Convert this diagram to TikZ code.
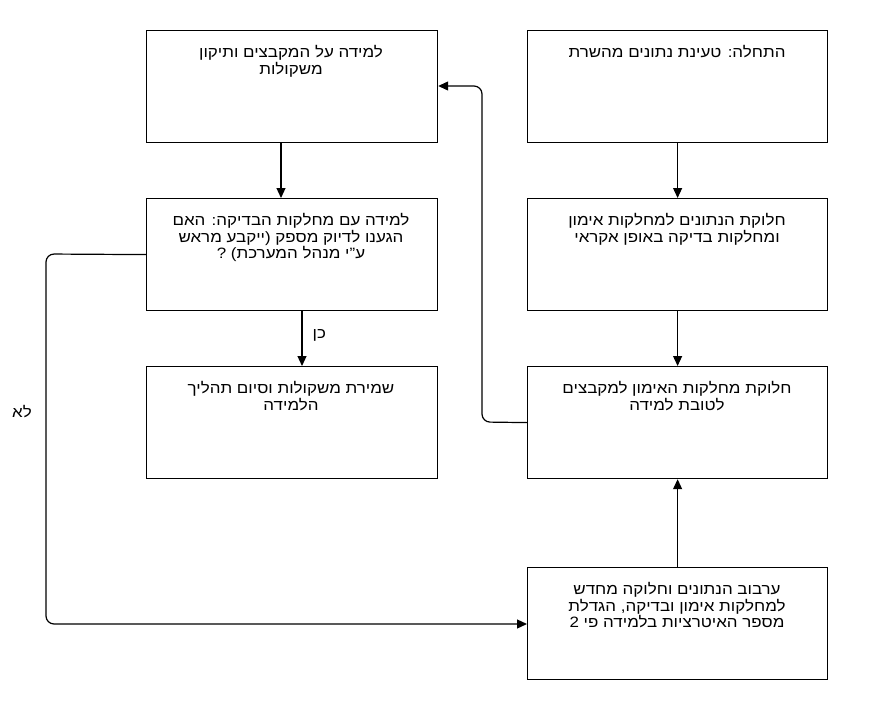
\documentclass[tikz,border=0pt]{standalone}
\usepackage{fontspec}
\setmainfont[Script=Hebrew,FakeStretch=1.13]{Liberation Sans}
\TeXXeTstate=1
\usetikzlibrary{arrows.meta}
\newcommand{\rl}[1]{\beginR #1\endR}
\tikzset{
  box/.style={draw=black, line width=1.2pt, minimum width=#1, minimum height=112pt, inner sep=0pt},
  box/.default=291pt,
  txt/.style={anchor=north, inner sep=0pt, align=center, font=\fontsize{15pt}{16.5pt}\selectfont},
  lbl/.style={inner sep=0pt, font=\fontsize{15pt}{16.5pt}\selectfont},
  conn/.style={line width=1.2pt, -{Triangle[length=10pt,width=9pt]}, rounded corners=8pt}
}
\begin{document}
\begin{tikzpicture}[x=1pt,y=-1pt]
\useasboundingbox (0,0) rectangle (893,714);
% left column boxes
\node[box, anchor=north west] (A) at (146,30) {};
\node[box, anchor=north west] (C) at (146,198) {};
\node[box, anchor=north west] (E) at (146,366) {};
% right column boxes
\node[box=300pt, anchor=north west] (B) at (527,30) {};
\node[box=300pt, anchor=north west] (D) at (527,198) {};
\node[box=300pt, anchor=north west] (F) at (527,366) {};
\node[box=300pt, anchor=north west] (G) at (527,567) {};
% texts
\node[txt] (tA) at (291,45.5) {\rl{למידה על המקבצים ותיקון}\\\rl{משקולות}};
\node[txt] (tB) at (677,45.5) {\rl{התחלה: טעינת נתונים מהשרת}};
\node[txt] (tC) at (291,213.5) {\rl{למידה עם מחלקות הבדיקה: האם}\\\rl{הגענו לדיוק מספק (ייקבע מראש}\\\rl{ע"י מנהל המערכת) ?}};
\node[txt] (tD) at (677,213.5) {\rl{חלוקת הנתונים למחלקות אימון}\\\rl{ומחלקות בדיקה באופן אקראי}};
\node[txt] (tE) at (291,381.5) {\rl{שמירת משקולות וסיום תהליך}\\\rl{הלמידה}};
\node[txt] (tF) at (677,381.5) {\rl{חלוקת מחלקות האימון למקבצים}\\\rl{לטובת למידה}};
\node[txt] (tG) at (677,582.5) {\rl{ערבוב הנתונים וחלוקה מחדש}\\\rl{למחלקות אימון ובדיקה, הגדלת}\\\rl{מספר האיטרציות בלמידה פי 2}};
% connectors
\draw[conn] (B.south) -- (D.north);
\draw[conn] (D.south) -- (F.north);
\draw[conn] (G.north) -- (F.south);
\draw[conn] (A.south -| 281,0) -- (C.north -| 281,0);
\draw[conn] (C.south -| 302,0) -- (E.north -| 302,0) node[lbl, pos=0.45, right=10pt] (yes) {\rl{כן}};
\draw[conn] (F.west) -- (482,422) -- (482,86) -- (A.east |- 0,86);
\draw[conn] (C.west) -- (46,254) -- (46,624) -- (G.west |- 0,624);
\node[lbl] (no) at (22,412) {\rl{לא}};
\end{tikzpicture}
\end{document}
